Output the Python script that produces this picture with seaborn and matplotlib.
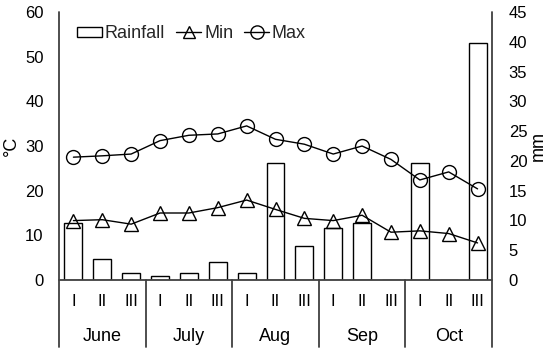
import matplotlib
matplotlib.use("Agg")
import matplotlib.pyplot as plt
import matplotlib.transforms as mtransforms
from matplotlib.patches import Patch
from matplotlib.lines import Line2D
import seaborn as sns
import pandas as pd
import numpy as np

sns.set_theme(style="white")
plt.rcParams['font.family'] = ['Liberation Sans', 'DejaVu Sans']

months = ["June", "July", "Aug", "Sep", "Oct"]
dekads = ["I", "II", "III"]
labels = [f"{m} {d}" for m in months for d in dekads]
rainfall = [9.5, 3.5, 1.2, 0.7, 1.2, 3.1, 1.2, 19.7, 5.7, 8.7, 9.5, 0.0, 19.7, 0.0, 39.8]
tmin = [13.3, 13.5, 12.5, 15.0, 15.0, 16.2, 17.9, 15.8, 13.8, 13.3, 14.5, 10.7, 11.0, 10.4, 8.3]
tmax = [27.5, 27.8, 28.2, 31.2, 32.4, 32.7, 34.5, 31.5, 30.4, 28.2, 30.0, 27.0, 22.4, 24.2, 20.4]

df = pd.DataFrame({"label": labels, "pos": np.arange(len(labels)),
                   "rain": rainfall, "tmin": tmin, "tmax": tmax})

fig = plt.figure(figsize=(5.5, 3.51), dpi=100)
ax = fig.add_axes([59/550, 71/351, 433/550, 268/351])
ax2 = ax.twinx()

axis_col = "#404040"
fs = 12
fs_big = 13

sns.barplot(data=df, x="label", y="rain", ax=ax2, color="white", width=0.62,
            edgecolor="black", linewidth=1.0, saturation=1)
sns.lineplot(data=df, x="pos", y="tmin", ax=ax, color="black", linewidth=1.0,
             marker="^", markersize=9.5, markerfacecolor="none",
             markeredgecolor="black", markeredgewidth=1.0)
sns.lineplot(data=df, x="pos", y="tmax", ax=ax, color="black", linewidth=1.0,
             marker="o", markersize=10, markerfacecolor="none",
             markeredgecolor="black", markeredgewidth=1.0)

ax.set_zorder(ax2.get_zorder() + 1)
ax.patch.set_visible(False)

for a in (ax, ax2):
    for s in a.spines.values():
        s.set_visible(False)
ax.set_xlim(-0.5, len(labels) - 0.5)
ax.set_ylim(0, 60)
ax2.set_ylim(0, 45)
ax.set_yticks(range(0, 61, 10))
ax2.set_yticks(range(0, 46, 5))

ax.set_xticks(range(len(labels)))
ax.set_xticklabels(dekads * len(months))
ax.set_xlabel("")
ax2.set_xlabel("")
ax.tick_params(axis="x", length=0, pad=10, labelsize=fs, labelcolor="black")
ax.tick_params(axis="y", length=0, pad=11, labelsize=fs, labelcolor="black")
ax2.tick_params(axis="y", length=0, pad=12, labelsize=fs, labelcolor="black")

ax.set_ylabel("°C", fontsize=fs_big, color="black", labelpad=4)
ax2.set_ylabel("mm", fontsize=fs_big, color="black", labelpad=2)

trans = mtransforms.blended_transform_factory(ax.transData, ax.transAxes)
ax.plot([-0.5, 14.5], [0, 0], transform=trans, color=axis_col, lw=1.3, clip_on=False)
for b in [-0.5, 2.5, 5.5, 8.5, 11.5, 14.5]:
    top = 1.0 if b in (-0.5, 14.5) else 0.0
    ax.plot([b, b], [-0.25, top], transform=trans, color=axis_col, lw=1.3,
            clip_on=False)
for i, m in enumerate(months):
    ax.text(i * 3 + 1, -0.21, m, transform=trans, ha="center", va="center",
            fontsize=fs_big, color="black")

handles = [Patch(facecolor="white", edgecolor="black", linewidth=1.0),
           Line2D([], [], color="black", lw=1.0, marker="^", markersize=9,
                  markerfacecolor="none", markeredgecolor="black"),
           Line2D([], [], color="black", lw=1.0, marker="o", markersize=9.5,
                  markerfacecolor="none", markeredgecolor="black")]
ax.legend(handles, ["Rainfall", "Min", "Max"], loc="upper left",
          bbox_to_anchor=(0.012, 0.998), ncol=3, frameon=False, fontsize=fs_big,
          handlelength=1.4, handleheight=0.5, handletextpad=0.15,
          columnspacing=0.6, borderaxespad=0.3)

fig.savefig("out.png", dpi=100)
